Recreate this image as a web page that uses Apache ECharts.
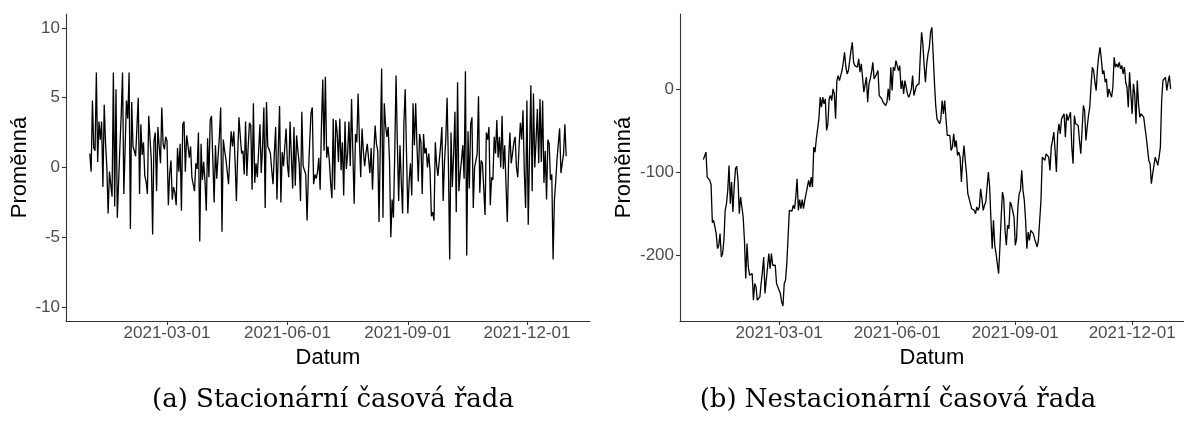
<!DOCTYPE html>
<html>
<head>
<meta charset="utf-8">
<script src="https://cdn.jsdelivr.net/npm/echarts@6/dist/echarts.min.js"></script>
<style>
html,body{margin:0;padding:0;background:#fff;}
#chart{width:1184px;height:421px;}
</style>
</head>
<body>
<div id="chart"></div>
<script>
// ---- data ----
const startDate = '2021-01-01'; // daily observations
const xTickLabels = ['2021-03-01', '2021-06-01', '2021-09-01', '2021-12-01'];
const yTicksA = [-10, -5, 0, 5, 10];
const yTicksB = [-200, -100, 0];
const captionA = '(a) Stacionární časová řada';
const captionB = '(b) Nestacionární časová řada';
const xTitle = 'Datum';
const yTitle = 'Proměnná';

const stationary = [
  1.0, -0.3, 4.8, 1.4, 1.2, 6.8, 0.4, 3.3, 2.0, 3.3,
  -1.4, 4.5, 1.8, 0.0, -3.3, -0.3, -1.2, -2.1, 6.8, -2.8,
  5.6, -3.6, -1.0, 1.5, 3.8, 6.8, -1.9, 1.5, 4.8, 3.5,
  6.8, -4.4, 4.7, 1.5, 1.2, 0.8, 0.7, 5.0, -1.9, 3.1,
  0.9, 1.8, -0.6, -1.0, -1.9, 3.7, 3.8, 0.5, -4.8, 1.9,
  2.5, -1.7, 2.9, 1.5, 0.3, 4.3, 1.7, 1.3, 2.2, 1.9,
  -2.7, -0.5, 0.5, -2.3, -1.4, -1.8, -2.7, 1.4, -0.3, 1.7,
  -3.1, 3.1, 3.3, -0.3, 2.3, 1.6, 0.7, 1.5, -0.7, -1.2,
  -1.7, 0.3, -0.1, 2.5, -5.3, 1.7, -0.9, 0.4, -1.0, -3.1,
  2.1, -0.7, 3.4, 3.7, 0.5, -2.5, 1.6, -0.8, 0.8, 2.2,
  4.3, -4.6, 2.0, 1.2, 0.6, 0.5, -1.2, 0.9, 2.6, 1.5,
  2.6, 0.5, -2.4, 1.0, 3.6, 2.2, 1.0, 1.2, -0.5, 3.3,
  -0.6, 1.5, 3.2, 3.0, -1.6, 4.6, -1.1, 0.3, -0.7, 1.2,
  3.1, -0.4, 1.5, 4.3, -2.9, 4.7, 1.5, 1.3, 1.0, -0.2,
  -1.2, 1.0, 2.9, -2.3, 1.2, 4.4, -2.5, 1.1, 0.1, 1.5,
  2.8, 0.2, -0.7, 3.3, 0.8, -1.5, 2.9, -1.3, 2.3, 1.2,
  0.3, -2.4, 4.0, 0.1, 0.0, -0.5, -3.8, -0.5, 1.8, 3.9,
  4.3, -1.2, -0.5, -0.8, -0.3, 0.7, -1.6, 3.0, 6.3, 1.2,
  6.5, 0.7, 1.5, 0.5, -1.1, -2.2, 3.5, -1.6, 3.4, 2.5,
  0.4, 3.5, -0.2, 1.8, -2.0, 3.3, -0.1, 1.0, 3.3, 0.1,
  4.9, 1.0, -2.6, 2.4, 1.8, 5.3, 2.0, -0.7, 2.8, 1.2,
  0.1, 1.0, 1.7, 1.6, -0.4, 1.4, -1.6, 1.0, 3.0, 1.7,
  1.2, -3.9, 1.8, 7.1, -3.6, 4.6, 3.0, 2.2, 2.9, 0.5,
  -5.0, -2.3, -3.6, 1.0, 6.6, 1.7, -2.4, 1.6, -1.0, -3.3,
  3.2, 5.6, 1.0, -3.3, -1.0, 0.3, -2.0, 4.6, 1.6, 4.6,
  1.5, -1.0, 2.4, 1.8, -1.9, 2.4, 1.0, 1.4, 0.0, 1.0,
  -0.3, -3.5, -3.2, -3.8, 1.8, 0.2, -0.6, 0.5, 1.5, 2.9,
  -2.4, 0.4, 2.0, 5.0, 0.3, -6.6, 2.5, -1.4, 1.0, 4.0,
  -3.2, 6.1, -1.7, -0.4, 0.5, 1.6, -0.8, 6.9, -6.3, 2.6,
  -1.5, 3.1, 3.6, -2.9, 0.0, 0.5, 1.0, 5.1, -1.8, 0.5,
  0.3, -1.5, -3.4, 2.5, 2.0, 2.9, -2.7, -0.7, -0.9, 2.2,
  1.0, 3.4, 0.7, 2.2, 0.0, 3.7, -0.1, 1.6, 1.7, -3.9,
  0.5, 2.5, 0.3, 1.0, 1.8, 2.2, 0.0, -0.7, 1.5, 3.2,
  2.0, 4.1, -0.3, -2.9, 4.8, -4.1, 1.0, 5.9, -1.7, 5.3,
  0.0, 2.0, 4.2, 0.3, 4.9, 0.4, 4.8, -1.1, 1.2, -2.3,
  2.0, 1.7, -0.9, -0.5, -6.6, -2.3, -1.0, 0.6, 0.7, 2.8,
  -0.4, -0.3, 1.0, 3.1, 0.8
];

const nonstationary = [
  -85, -84, -76, -106, -108, -110, -115, -161, -158, -166,
  -174, -192, -188, -174, -202, -198, -182, -146, -138, -122,
  -92, -138, -112, -148, -118, -96, -93, -110, -150, -130,
  -131, -154, -182, -228, -186, -214, -224, -222, -222, -254,
  -234, -238, -254, -256, -250, -234, -220, -202, -246, -248,
  -214, -198, -216, -198, -212, -210, -212, -234, -238, -242,
  -246, -256, -261, -234, -230, -210, -178, -146, -144, -147,
  -140, -144, -130, -108, -146, -133, -144, -133, -144, -134,
  -133, -118, -110, -118, -106, -118, -70, -76, -60, -58,
  -36, -10, -22, -10, -18, -12, -50, -42, -12, -8,
  -14, 0, -6, -36, 10, 16, 10, 16, 22, 32,
  44, 26, 18, 22, 22, 46, 56, 32, 28, 28,
  26, 36, 20, 30, 14, -4, -6, 14, -16, 6,
  12, 20, 32, 12, 14, 18, 22, -8, -8, -12,
  -16, -18, -20, -16, 0, -14, 26, -2, 26, 22,
  34, 32, 22, 28, 0, 10, -6, 10, 10, -6,
  -10, -6, 0, 16, -8, -2, 4, 6, 6, 40,
  68, 54, 28, 8, 30, 42, 50, 68, 74, 42,
  8, -20, -36, -36, -42, -36, -14, -30, -14, -36,
  -56, -58, -56, -74, -70, -54, -70, -62, -80, -76,
  -82, -112, -86, -68, -86, -102, -126, -124, -138, -144,
  -144, -146, -150, -142, -146, -142, -120, -132, -146, -140,
  -136, -136, -100, -118, -156, -192, -158, -188, -198, -210,
  -222, -190, -154, -124, -132, -170, -188, -164, -168, -136,
  -140, -142, -154, -188, -180, -142, -126, -122, -98, -122,
  -134, -158, -192, -172, -182, -170, -168, -174, -180, -178,
  -190, -182, -182, -134, -82, -80, -86, -78, -76, -82,
  -98, -70, -62, -52, -74, -100, -54, -42, -54, -36,
  -38, -30, -58, -30, -38, -36, -28, -70, -90, -32,
  -42, -40, -44, -62, -78, -50, -20, -26, -62, -46,
  -32, -22, 4, 26, 22, 8, -2, 24, 40, 50,
  36, 18, 22, 8, 12, -10, 0, -6, -10, 2,
  38, 26, 30, 26, 32, 24, 28, 18, 26, 8,
  2, -22, 20, -6, -30, 6, -6, -42, 10, -18,
  -34, -30, -32, -34, -34, -58, -56, -86, -90, -114,
  -102, -102, -82, -84, -92, -82, -70, -14, 10, 12,
  14, -2, 8, 16, 0
];

// ---- build ----
const DAY = 86400000;
function parseUTC(s) { const p = s.split('-').map(Number); return Date.UTC(p[0], p[1] - 1, p[2]); }
const t0 = parseUTC(startDate);
const dates = stationary.map((_, i) => t0 + i * DAY);
const xTicks = xTickLabels.map(parseUTC);
const span = dates[dates.length - 1] - dates[0];
const xMin = dates[0] - 0.05 * span;
const xMax = dates[dates.length - 1] + 0.05 * span;
// right panel is cut off by the picture's right edge
const xMaxB = xMin + (xMax - xMin) * (504 / 514);

function pad(n) { return (n < 10 ? '0' : '') + n; }
function fmtDate(v) { const d = new Date(v); return d.getUTCFullYear() + '-' + pad(d.getUTCMonth() + 1) + '-' + pad(d.getUTCDate()); }

const FONT = '"Liberation Sans", Arial, sans-serif';
const axisLineStyle = { color: '#333333', width: 1.1 };

function xAxis(gi, max) {
  return {
    type: 'value', gridIndex: gi, min: xMin, max: max, scale: true,
    name: xTitle, nameLocation: 'middle', nameGap: 22,
    nameTextStyle: { fontFamily: FONT, fontSize: 22, color: '#000' },
    axisLine: { show: true, onZero: false, lineStyle: axisLineStyle },
    axisTick: { show: true, length: 4, customValues: xTicks, lineStyle: axisLineStyle },
    axisLabel: { customValues: xTicks, fontFamily: FONT, fontSize: 17, color: '#4D4D4D', margin: 4,
      formatter: v => fmtDate(v), hideOverlap: false },
    splitLine: { show: false }
  };
}
function yAxis(gi, min, max, ticks, gap) {
  return {
    type: 'value', gridIndex: gi, min: min, max: max,
    name: yTitle, nameLocation: 'middle', nameGap: gap, nameRotate: 90,
    nameTextStyle: { fontFamily: FONT, fontSize: 22, color: '#000' },
    axisLine: { show: true, onZero: false, lineStyle: axisLineStyle },
    axisTick: { show: true, length: 4, customValues: ticks, lineStyle: axisLineStyle },
    axisLabel: { customValues: ticks, fontFamily: FONT, fontSize: 17, color: '#4D4D4D', margin: 6 },
    splitLine: { show: false }
  };
}

const capStyle = { fontFamily: '"DejaVu Serif", "Liberation Serif", serif', fontWeight: 'normal', fontSize: 26, color: '#000' };
const chart = echarts.init(document.getElementById('chart'), null, { renderer: 'canvas' });
chart.setOption({
  animation: false,
  backgroundColor: '#ffffff',
  title: [
    { text: captionA, left: 328, top: 382, textAlign: 'center', textStyle: capStyle },
    { text: captionB, left: 893, top: 382, textAlign: 'center', textStyle: capStyle }
  ],
  grid: [
    { left: 66, top: 14, width: 524, height: 307 },
    { left: 680, top: 14, width: 504, height: 307 }
  ],
  xAxis: [xAxis(0, xMax), xAxis(1, xMaxB)],
  yAxis: [yAxis(0, -11, 11, yTicksA, 35), yAxis(1, -279, 90, yTicksB, 45)],
  series: [
    { type: 'line', xAxisIndex: 0, yAxisIndex: 0, showSymbol: false, symbol: 'none',
      data: dates.map((d, i) => [d, stationary[i]]), lineStyle: { color: '#000', width: 1.3 } },
    { type: 'line', xAxisIndex: 1, yAxisIndex: 1, showSymbol: false, symbol: 'none',
      data: dates.map((d, i) => [d, nonstationary[i]]), lineStyle: { color: '#000', width: 1.3 } }
  ]
});
</script>
</body>
</html>
